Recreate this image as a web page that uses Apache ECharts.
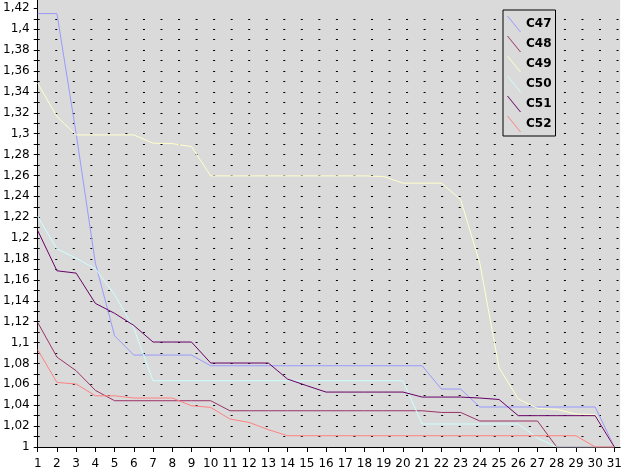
<!DOCTYPE html>
<html>
<head>
<meta charset="utf-8">
<script src="https://cdn.jsdelivr.net/npm/echarts@6/dist/echarts.min.js"></script>
<style>
html,body{margin:0;padding:0;background:#fff;}
#c{width:625px;height:472px;}
</style>
</head>
<body>
<div id="c"></div>
<script>
var xCats = [1,2,3,4,5,6,7,8,9,10,11,12,13,14,15,16,17,18,19,20,21,22,23,24,25,26,27,28,29,30,31];
var yLabels = [1,1.02,1.04,1.06,1.08,1.1,1.12,1.14,1.16,1.18,1.2,1.22,1.24,1.26,1.28,1.3,1.32,1.34,1.36,1.38,1.4,1.42];
var seriesNames = ['C47','C48','C49','C50','C51','C52'];
var c47 = [1.415,1.415,1.300,1.176,1.1065,1.088,1.088,1.088,1.088,1.0778,1.0778,1.0778,1.0778,1.0778,1.0778,1.0778,1.0778,1.0778,1.0778,1.0778,1.0778,1.0555,1.0555,1.0383,1.0383,1.0383,1.0383,1.0383,1.0383,1.0383,1.0];
var c48 = [1.1192,1.0861,1.073,1.0542,1.0443,1.0443,1.0443,1.0443,1.0443,1.0443,1.0347,1.0347,1.0347,1.0347,1.0347,1.0347,1.0347,1.0347,1.0347,1.0347,1.0347,1.0331,1.0331,1.0249,1.0249,1.0249,1.0249,1.0,1.0,1.0,1.0];
var c49 = [1.3483,1.3163,1.2988,1.2988,1.2988,1.2988,1.2909,1.2905,1.2876,1.2596,1.2596,1.2596,1.2596,1.2596,1.2596,1.2596,1.2596,1.2596,1.2590,1.2526,1.2526,1.2526,1.237,1.176,1.076,1.046,1.037,1.036,1.0316,1.031,1.0];
var c50 = [1.2206,1.1897,1.1808,1.1706,1.146,1.1138,1.0634,1.0634,1.0634,1.0634,1.0634,1.0634,1.0634,1.0634,1.0634,1.0634,1.0634,1.0634,1.0634,1.0634,1.022,1.022,1.022,1.022,1.022,1.022,1.0086,1.0,1.0,1.0,1.0];
var c51 = [1.2072,1.1687,1.1665,1.1375,1.128,1.1164,1.1005,1.1005,1.1005,1.0804,1.0804,1.0804,1.0804,1.065,1.0587,1.0526,1.0526,1.0526,1.0526,1.0526,1.0478,1.0478,1.0478,1.0469,1.0455,1.030,1.030,1.030,1.030,1.030,1.0];
var c52 = [1.0931,1.0618,1.0603,1.049,1.049,1.0469,1.0469,1.0469,1.0395,1.0379,1.0268,1.0235,1.0166,1.0108,1.0108,1.0108,1.0108,1.0108,1.0108,1.0108,1.0108,1.0108,1.0108,1.0108,1.0108,1.0108,1.0108,1.0108,1.0108,1.0,1.0];

var allValues = [c47,c48,c49,c50,c51,c52];
var colors = ['#9999ff','#993366','#ffffcc','#ccffff','#660066','#ff8080'];
var FONT = '"DejaVu Sans", sans-serif';

var yTickVals = [];
for (var k = 0; k <= 42; k++) { yTickVals.push(+(1 + k * 0.01).toFixed(2)); }

var chart = echarts.init(document.getElementById('c'), null, {renderer: 'canvas'});
var series = seriesNames.map(function (name, s) {
  return {
    name: name,
    type: 'line',
    data: xCats.map(function (x, i) { return [x, allValues[s][i]]; }),
    showSymbol: false,
    symbol: 'none',
    smooth: false,
    lineStyle: {color: colors[s], width: 1},
    itemStyle: {color: colors[s]},
    emphasis: {disabled: true},
    animation: false
  };
});

chart.setOption({
  animation: false,
  backgroundColor: '#ffffff',
  color: colors,
  grid: {
    left: 37, right: 0, top: 0, bottom: 25,
    show: true, backgroundColor: '#dadada', borderWidth: 0,
    containLabel: false
  },
  legend: {
    orient: 'vertical',
    left: 503, top: 10,
    padding: [6, 4, 4, 4],
    itemWidth: 14, itemHeight: 16, itemGap: 4,
    backgroundColor: '#dadada',
    borderColor: '#000', borderWidth: 1, borderRadius: 0,
    icon: 'path://M0,0L1,0L14,16L13,16Z',
    textStyle: {fontFamily: FONT, fontSize: 12, fontWeight: 'bold', color: '#000'},
    itemStyle: {borderWidth: 0},
    data: seriesNames
  },
  xAxis: {
    type: 'value',
    min: 1, max: 31.3,
    interval: 1,
    axisLine: {show: true, onZero: false, lineStyle: {color: '#000', width: 1}},
    axisTick: {show: true, length: 5, customValues: xCats, lineStyle: {color: '#000'}},
    axisLabel: {
      customValues: xCats,
      margin: 11,
      fontFamily: FONT, fontSize: 12, color: '#000'
    },
    splitLine: {show: false}
  },
  yAxis: {
    type: 'value',
    min: 1, max: 1.428,
    interval: 0.02,
    axisLine: {show: true, onZero: false, lineStyle: {color: '#000', width: 1}},
    axisTick: {show: true, length: 4, customValues: yTickVals, lineStyle: {color: '#000'}},
    axisLabel: {
      customValues: yLabels,
      margin: 8,
      fontFamily: FONT, fontSize: 12, color: '#000',
      formatter: function (v) { return String(+(+v).toFixed(2)).replace('.', ','); }
    },
    splitLine: {
      show: true, showMinLine: false, showMaxLine: false,
      lineStyle: {color: '#000', width: 1, type: [2, 15.54]}
    }
  },
  series: series
});
</script>
</body>
</html>
